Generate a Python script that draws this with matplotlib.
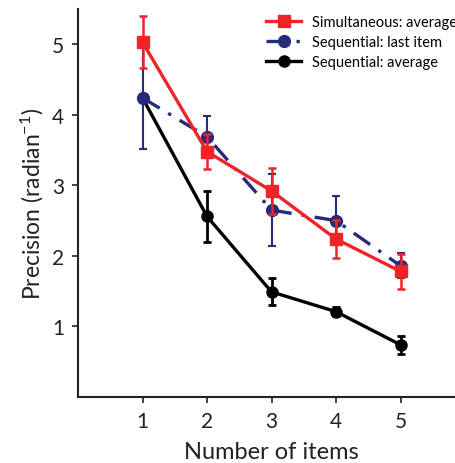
import matplotlib
matplotlib.use("Agg")
import matplotlib.pyplot as plt

plt.rcParams["font.family"] = ["Lato", "DejaVu Sans"]
plt.rcParams["mathtext.default"] = "regular"

items = [1, 2, 3, 4, 5]

simultaneous_avg = [5.03, 3.48, 2.92, 2.24, 1.78]
simultaneous_err = [0.37, 0.25, 0.33, 0.27, 0.25]

sequential_last = [4.24, 3.69, 2.65, 2.50, 1.86]
sequential_last_err = [0.72, 0.30, 0.51, 0.35, 0.18]

sequential_avg = [4.24, 2.56, 1.49, 1.21, 0.74]
sequential_avg_err = [0.0, 0.36, 0.19, 0.06, 0.13]

RED = "#ee2428"
NAVY = "#272a78"
BLACK = "#000000"
INK = "#222222"

fig = plt.figure(figsize=(4.56, 4.64), dpi=100)
ax = fig.add_axes([78 / 456, 1 - 398 / 464, 387 / 456, 388 / 464])

ax.errorbar(items, sequential_avg, yerr=sequential_avg_err, color=BLACK,
            lw=2.4, marker="o", ms=8, capsize=3, elinewidth=2, capthick=2,
            label="Sequential: average", zorder=2)
ax.errorbar(items, sequential_last, yerr=sequential_last_err, color=NAVY,
            lw=2.4, ls=(0, (6, 3, 1, 3)), marker="o", ms=8.5, capsize=3,
            elinewidth=1.5, capthick=1.5, label="Sequential: last item",
            zorder=3)
ax.errorbar(items, simultaneous_avg, yerr=simultaneous_err, color=RED,
            lw=2.4, marker="s", ms=8, capsize=3, elinewidth=1.8,
            capthick=1.8, label="Simultaneous: average", zorder=4)

ax.set_xlim(0, 6)
ax.set_ylim(0, 5.5)
ax.set_xticks(items)
ax.set_yticks([1, 2, 3, 4, 5])
ax.tick_params(labelsize=15, length=4, width=1.2, direction="out", pad=6,
               colors=INK)
for side in ("top", "right"):
    ax.spines[side].set_visible(False)
for side in ("left", "bottom"):
    ax.spines[side].set_linewidth(1.5)
    ax.spines[side].set_color(INK)

ax.set_xlabel("Number of items", fontsize=17, color=INK, labelpad=7)
ax.set_ylabel("Precision (radian$^{-1}$)", fontsize=16.5, color=INK,
              labelpad=4)

# legend rows drawn without error bar glyphs, top to bottom
handles, labels = ax.get_legend_handles_labels()
handles = [h[0] for h in handles[::-1]]
fig.legend(handles, labels[::-1], loc="upper left",
           bbox_to_anchor=(266 / 456, 1 - 16 / 464), frameon=False,
           fontsize=10.5, handlelength=2.4, handletextpad=0.75,
           labelspacing=0.4, borderpad=0.0, borderaxespad=0.0)

fig.savefig("out.png", dpi=100)
